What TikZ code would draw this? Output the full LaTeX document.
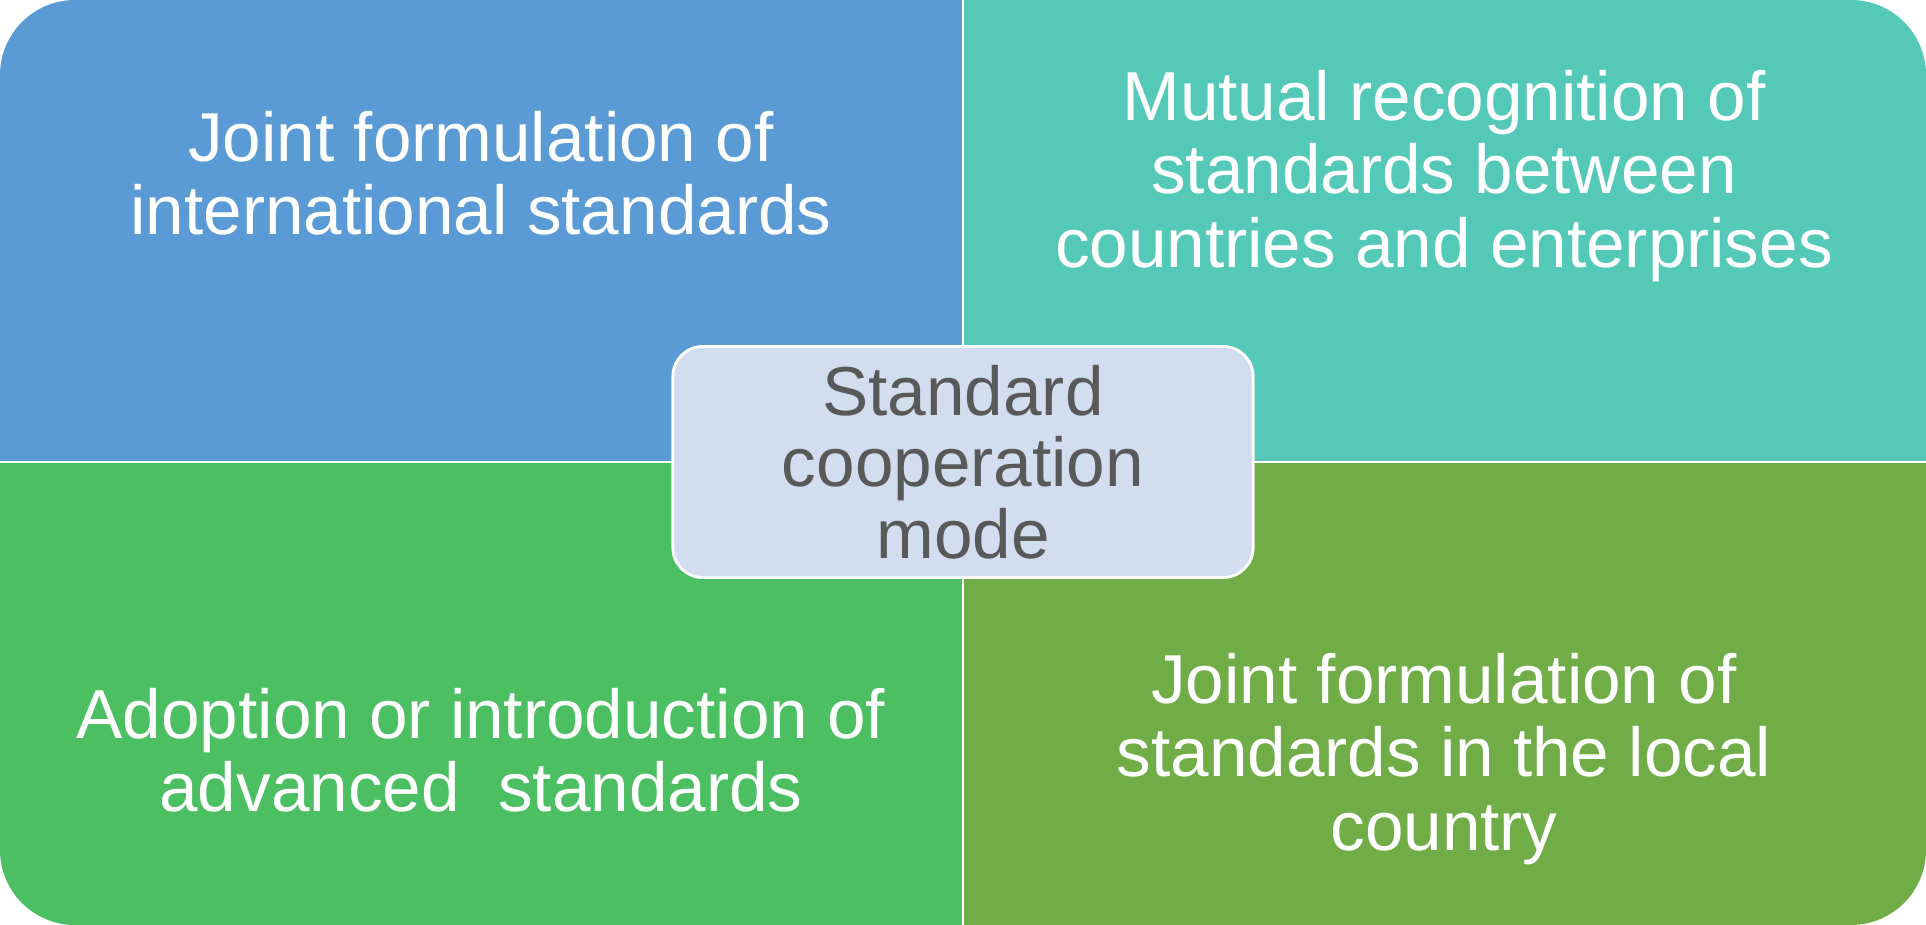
\documentclass[tikz,border=0pt]{standalone}
\usepackage{fontspec}
\setmainfont{Liberation Sans}

\definecolor{tlblue}{HTML}{5B9BD5}
\definecolor{trteal}{HTML}{55C9B7}
\definecolor{blgreen}{HTML}{4BBF62}
\definecolor{brgreen}{HTML}{70AD47}
\definecolor{centrefill}{HTML}{D2DEEF}
\definecolor{centretext}{HTML}{595959}

\tikzset{
  quadtext/.style={text=white, align=center, font=\fontsize{19.7}{20.9}\selectfont, inner sep=0pt},
  centrebox/.style={draw=white, line width=0.8pt, fill=centrefill, rounded corners=0.3cm,
    minimum width=5.8cm, minimum height=2.31cm, text=centretext, align=center,
    font=\fontsize{19.7}{20.4}\selectfont, inner sep=0pt},
  sepline/.style={white, line width=0.6pt}
}

\begin{document}
\begin{tikzpicture}[x=0.01cm, y=-0.01cm]
        \useasboundingbox (0,0) rectangle (1926,925);

        %Quadrants
        %top left
        \begin{scope}
          \clip (0,0) rectangle (963,462);
          \fill[tlblue, rounded corners=0.75cm] (0,0) rectangle (1926,925);
        \end{scope}
        %top right
        \begin{scope}
          \clip (963,0) rectangle (1926,462);
          \fill[trteal, rounded corners=0.75cm] (0,0) rectangle (1926,925);
        \end{scope}
        %bottom left
        \begin{scope}
          \clip (0,462) rectangle (963,925);
          \fill[blgreen, rounded corners=0.75cm] (0,0) rectangle (1926,925);
        \end{scope}
        %bottom right
        \begin{scope}
          \clip (963,462) rectangle (1926,925);
          \fill[brgreen, rounded corners=0.75cm] (0,0) rectangle (1926,925);
        \end{scope}

        %Separators
        \draw[sepline] (963,0) -- (963,925);
        \draw[sepline] (0,462) -- (1926,462);

        %Texts
        \node[quadtext] (jointintl) at (481,173) {Joint formulation of\\international standards};
        \node[quadtext] (mutual) at (1444,176) {Mutual recognition of\\standards between\\countries and enterprises};
        \node[quadtext] (adoption) at (481,750) {Adoption or introduction of\\advanced\ \ standards};
        \node[quadtext] (jointlocal) at (1444,759) {Joint formulation of\\standards in the local\\country};

        %Centre
        \node[centrebox] (mode) at (963,462) {Standard\\cooperation\\mode};

\end{tikzpicture}
\end{document}
